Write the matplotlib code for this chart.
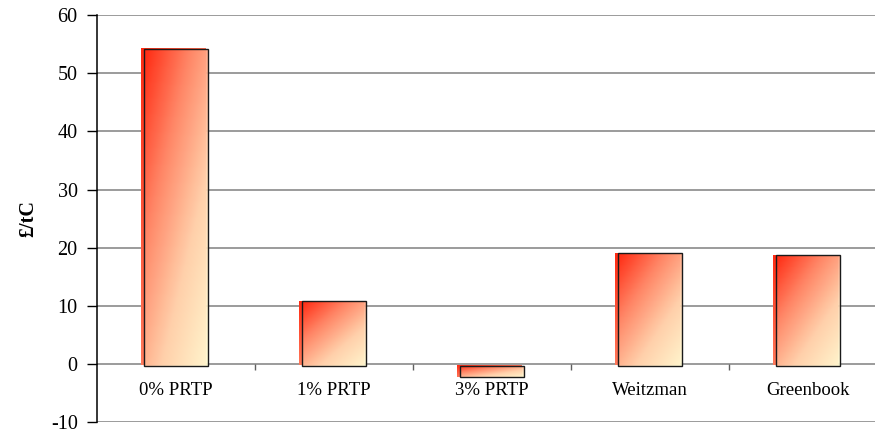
import numpy as np
import matplotlib
matplotlib.use("Agg")
import matplotlib.pyplot as plt
import matplotlib.transforms as mtransforms
from matplotlib.patches import Rectangle
from matplotlib.colors import LinearSegmentedColormap

# social cost of carbon under different discounting assumptions
categories = ["0% PRTP", "1% PRTP", "3% PRTP", "Weitzman", "Greenbook"]
values = [54.5, 11.1, -2.0, 19.3, 19.0]
yticks = [-10, 0, 10, 20, 30, 40, 50, 60]

plt.rcParams["font.family"] = ["Liberation Serif", "DejaVu Serif"]

fig = plt.figure(figsize=(8.75, 4.32), dpi=100)
ax = fig.add_axes([0.111, 0.0225, 0.903, 0.9425])

x = np.arange(len(categories))
bar_w = 0.405

ax.set_yticks(yticks)
ax.set_yticklabels([str(t) for t in yticks], fontsize=14.5)
ax.set_xticks([])
ax.tick_params(axis="y", direction="out", length=7, width=1, color="black", pad=7)

for s in ["top", "right", "bottom"]:
    ax.spines[s].set_visible(False)
ax.spines["left"].set_color("black")
ax.spines["left"].set_linewidth(1.1)
ax.spines["left"].set_zorder(5)

# horizontal gridlines incl. the floor at -10 and the zero line
for t in yticks:
    ax.axhline(t, color="#808080", lw=1.1, zorder=1)

# small ticks on the zero line between categories
ax.vlines(x[:-1] + 0.5, -1.0, 0, color="#606060", lw=1, zorder=2)

# diagonal red -> cream fill
cmap = LinearSegmentedColormap.from_list(
    "warm", ["#ff2a12", "#ff8a6a", "#ffd6b0", "#fffbd2"])
gy, gx = np.mgrid[0:1:120j, 0:1:60j]
grad = (gx * 0.85 + gy * 1.0) / 1.85   # 0 at top-left, 1 at bottom-right

# the bar's side face sits a few pixels to the left of the front
side_shift = mtransforms.ScaledTranslation(-3.5 / 100, -1 / 100, fig.dpi_scale_trans)
side_trans = ax.transData + side_shift
front_shift = mtransforms.ScaledTranslation(0, -1.5 / 100, fig.dpi_scale_trans)
front_trans = ax.transData + front_shift

for xi, v in zip(x, values):
    x0, x1 = xi - bar_w / 2, xi + bar_w / 2
    y0, y1 = min(0, v), max(0, v)

    side = Rectangle((x0, y0), bar_w, y1 - y0, transform=side_trans,
                     facecolor="none", edgecolor="none")
    ax.add_patch(side)
    im_s = ax.imshow(grad * 0.5, cmap=cmap, vmin=0, vmax=1, aspect="auto",
                     extent=(x0, x1, y0, y1), origin="upper", zorder=2,
                     interpolation="bilinear")
    im_s.set_transform(side_trans)
    im_s.set_clip_path(side)

    # front face
    front = Rectangle((x0, y0), bar_w, y1 - y0, transform=front_trans,
                      facecolor="none", edgecolor="#1a1a1a", lw=1.0, zorder=4)
    ax.add_patch(front)
    im_f = ax.imshow(grad, cmap=cmap, vmin=0, vmax=1, aspect="auto",
                     extent=(x0, x1, y0, y1), origin="upper", zorder=3,
                     alpha=0.93, interpolation="bilinear")
    im_f.set_transform(front_trans)
    im_f.set_clip_path(front)

ax.set_xlim(-0.5, len(categories) - 0.5)
ax.set_ylim(-10, 60)

for xi, lab in zip(x, categories):
    ax.text(xi, -4.6, lab, ha="center", va="center", fontsize=13.5, zorder=6)

ax.set_ylabel("£/tC", fontsize=14.5, fontweight="bold", labelpad=9)

fig.savefig("out.png", dpi=100)
